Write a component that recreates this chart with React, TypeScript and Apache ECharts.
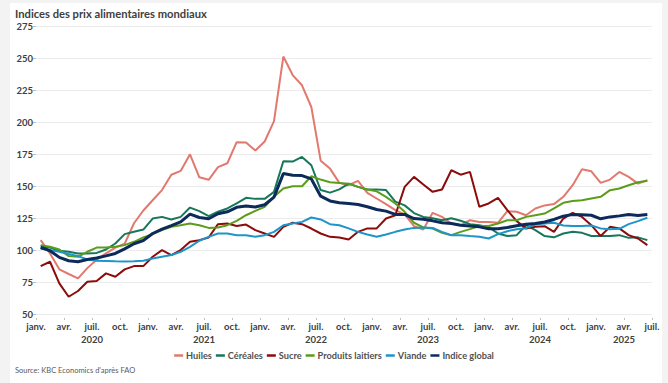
import React, { useEffect, useRef } from "react";
import * as echarts from "echarts";

const seriesNames = ["Huiles", "Céréales", "Sucre", "Produits laitiers", "Viande", "Indice global"];
const seriesColors = ["#e2796f", "#17775a", "#8c0b0b", "#5b9d1b", "#1d95c9", "#0c2a5a"];

const startYear = 2020;
const quarterLabels = ["janv.", "avr.", "juil.", "oct."];
const yTicks = [50, 75, 100, 125, 150, 175, 200, 225, 250, 275];

// Monthly values, Jan 2020 - Jun 2025
const huiles = [
  107.8, 97.4, 85.0, 81.3, 77.9, 85.9, 92.5, 97.5, 102.0, 105.0, 121.0, 131.0,
  139.0, 147.0, 159.0, 162.0, 175.0, 157.0, 155.0, 165.0, 168.0, 184.5, 184.3, 178.0,
  185.0, 201.0, 251.5, 237.0, 229.0, 212.0, 170.0, 163.8, 152.6, 150.8, 154.2, 144.8,
  140.4, 136.0, 131.3, 128.0, 118.7, 116.1, 129.2, 126.0, 120.8, 119.5, 123.4, 122.0,
  122.0, 121.4, 130.5, 130.0, 127.3, 132.6, 135.0, 136.0, 141.7, 150.8, 163.3, 161.7,
  152.6, 155.2, 161.2, 157.3, 152.0, 154.7,
];
const cereales = [
  103.1, 102.0, 99.5, 98.7, 97.4, 97.4, 97.8, 100.5, 105.2, 112.5, 114.3, 116.1,
  124.7, 126.0, 124.0, 126.0, 133.3, 130.5, 126.6, 130.0, 132.6, 136.5, 140.9, 140.1,
  140.1, 145.6, 169.5, 169.3, 172.9, 166.4, 147.0, 145.0, 147.5, 152.0, 149.5, 147.4,
  147.4, 147.0, 138.0, 135.0, 129.0, 126.0, 125.0, 123.4, 125.0, 123.0, 120.3, 119.5,
  118.0, 113.0, 111.0, 111.7, 119.5, 115.6, 111.0, 110.0, 113.0, 114.3, 113.5, 111.0,
  111.0, 111.0, 111.7, 109.6, 110.0, 107.8,
];
const sucre = [
  87.5, 90.9, 74.0, 63.5, 68.0, 75.3, 75.8, 81.8, 79.2, 84.9, 87.5, 87.5,
  94.8, 100.0, 96.1, 100.0, 106.5, 107.8, 109.9, 120.3, 120.8, 118.8, 120.0, 115.6,
  113.0, 110.4, 118.2, 121.4, 120.3, 116.9, 113.0, 110.4, 109.9, 108.3, 114.3, 117.0,
  117.0, 124.7, 127.3, 149.5, 157.3, 151.3, 145.6, 147.4, 162.5, 159.0, 161.2, 133.9,
  136.5, 140.9, 131.3, 122.7, 117.0, 118.2, 118.7, 114.3, 124.7, 129.2, 126.0, 119.5,
  111.0, 118.2, 117.0, 111.7, 109.1, 103.9,
];
const laitiers = [
  103.9, 102.6, 100.5, 95.3, 94.8, 98.7, 102.0, 102.0, 102.6, 103.9, 106.5, 110.0,
  112.5, 115.6, 118.2, 119.5, 120.8, 119.5, 117.4, 117.7, 119.5, 122.9, 127.3, 130.7,
  133.9, 141.7, 148.2, 150.0, 150.0, 157.8, 155.2, 153.1, 152.6, 152.0, 149.5, 147.4,
  146.0, 141.7, 136.5, 130.0, 121.4, 117.7, 116.9, 113.5, 111.7, 114.3, 116.4, 118.8,
  118.8, 120.8, 123.4, 123.4, 126.0, 127.3, 128.6, 132.6, 137.0, 138.5, 139.0, 140.4,
  141.7, 146.9, 148.2, 150.8, 153.1, 154.2,
];
const viande = [
  101.0, 100.0, 98.7, 96.9, 95.3, 92.7, 91.7, 91.5, 91.2, 91.0, 91.2, 91.7,
  93.5, 94.8, 96.1, 98.7, 102.6, 107.3, 110.4, 113.0, 113.0, 111.7, 111.7, 110.4,
  111.7, 114.3, 119.5, 120.8, 122.1, 125.5, 124.0, 120.3, 119.5, 117.0, 114.3, 112.2,
  110.4, 112.2, 114.3, 116.1, 117.4, 117.7, 117.4, 114.3, 111.7, 111.7, 111.0, 110.4,
  109.1, 112.5, 114.8, 116.4, 117.2, 120.0, 120.8, 121.4, 119.3, 118.8, 118.8, 119.3,
  117.0, 116.4, 116.7, 120.3, 122.7, 125.3,
];
const indiceGlobal = [
  102.1, 99.5, 94.3, 91.7, 90.9, 92.7, 93.8, 95.5, 97.4, 101.0, 105.0, 107.5,
  113.0, 116.4, 119.2, 122.1, 128.1, 125.5, 124.5, 128.5, 130.0, 133.5, 134.5, 133.7,
  135.5, 141.5, 159.9, 158.6, 158.3, 155.7, 142.2, 138.5, 137.0, 136.5, 135.7, 133.9,
  131.8, 130.5, 127.9, 127.9, 124.7, 124.2, 122.9, 121.4, 120.8, 119.5, 118.8, 118.2,
  116.7, 116.7, 117.7, 119.0, 120.3, 120.8, 122.0, 124.0, 126.6, 127.9, 127.6, 127.3,
  124.5, 126.0, 126.8, 127.9, 127.1, 127.9,
];

const allSeries = [huiles, cereales, sucre, laitiers, viande, indiceGlobal];
const FONT = "Lato, 'Noto Sans', sans-serif";

export default function App() {
  const ref = useRef<HTMLDivElement>(null);
  useEffect(() => {
    if (!ref.current) return;
    const chart = echarts.init(ref.current, undefined, { renderer: "svg" });
    const nMonths = huiles.length;
    // year label placed at center of each year's data span
    const yearCenters: Record<number, number> = {};
    for (let y = 0; y * 12 < nMonths; y++) {
      const first = y * 12;
      const last = Math.min(nMonths, first + 12);
      yearCenters[(first + last) / 2] = startYear + y;
    }
    chart.setOption({
      animation: false,
      backgroundColor: "#f3f3f3",
      textStyle: { fontFamily: FONT },
      graphic: [
        { type: "rect", z: -10, shape: { x: 10, y: 3, width: 652, height: 380 }, style: { fill: "#ffffff" } },
        {
          type: "text", left: 15, top: 8,
          style: { text: "Indices des prix alimentaires mondiaux", fontSize: 11.2, fontWeight: "bold", fill: "#404040", fontFamily: FONT },
        },
        {
          type: "text", left: 15, top: 366,
          style: { text: "Source: KBC Economics d'après FAO", fontSize: 7.5, fill: "#595959", fontFamily: FONT },
        },
      ],
      grid: { left: 36, right: 16, top: 26.5, bottom: 69, containLabel: false },
      legend: {
        bottom: 23,
        left: "center",
        padding: 0,
        itemWidth: 9,
        itemHeight: 2.5,
        itemGap: 4,
        icon: "rect",
        textStyle: { fontSize: 9.2, color: "#505050", fontWeight: "bold", fontFamily: FONT, padding: [0, 0, 0, -2] },
        data: seriesNames,
      },
      xAxis: {
        type: "value",
        min: 0,
        max: nMonths,
        interval: 3,
        offset: 4,
        axisLine: { show: false },
        axisTick: { show: true, length: 2, lineStyle: { color: "#bfbfbf" } },
        splitLine: { show: false },
        axisLabel: {
          margin: 2,
          fontSize: 9.5,
          fontWeight: "bold",
          color: "#404040",
          lineHeight: 13,
          showMinLabel: true,
          showMaxLabel: true,
          formatter: (v: number) => {
            const q = quarterLabels[(v % 12) / 3];
            const yr = yearCenters[v];
            return yr !== undefined ? q + "\n" + yr : q;
          },
        },
      },
      yAxis: {
        type: "value",
        min: yTicks[0],
        max: yTicks[yTicks.length - 1],
        interval: 25,
        axisLine: { show: false },
        axisTick: { show: true, length: 3, lineStyle: { color: "#bfbfbf" } },
        splitLine: { lineStyle: { color: "#ececec", width: 1 } },
        axisLabel: { margin: 3, fontSize: 9.5, fontWeight: "bold", color: "#404040" },
      },
      series: allSeries.map((vals, k) => ({
        name: seriesNames[k],
        type: "line",
        showSymbol: false,
        symbol: "none",
        color: seriesColors[k],
        lineStyle: { width: k === 5 ? 3 : 2, color: seriesColors[k] },
        data: vals.map((v, i) => [i + 0.5, v]),
      })),
    });
    return () => chart.dispose();
  }, []);
  return <div ref={ref} style={{ position: "fixed", left: 0, top: 0, width: 668, height: 383 }} />;
}
